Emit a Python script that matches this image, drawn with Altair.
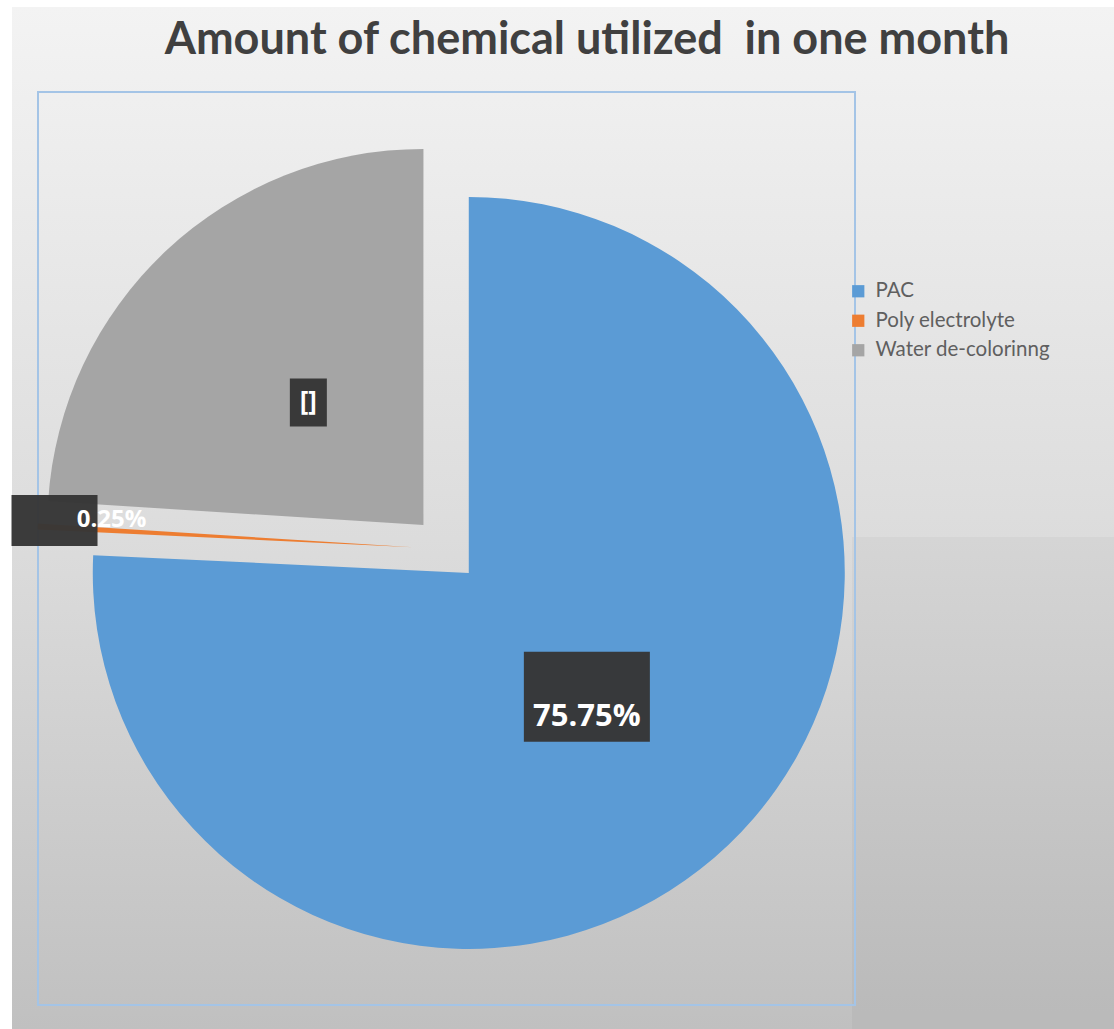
import altair as alt
import pandas as pd

# ---------------- data ----------------
categories = ["PAC", "Poly electrolyte", "Water de-colorinng"]
values = [75.75, 0.25, 24.0]
label_texts = ["75.75%", "0.25%", "[]"]
title_text = "Amount of chemical utilized \u00a0in one month"

# ---------------- style ----------------
colors = ["#5B9BD5", "#ED7D31", "#A5A5A5"]
label_radius = [0.455, 0.955, 0.447]   # fraction of pie radius for label box centre
box_dx = [0, 0, 0]
box_dy = [0, -7, 0]
box_w = [126, 86, 37]
box_h = [90, 51, 48]
text_dx = [0, 57, 0]
text_dy = [20, 0, 0]
font_sizes = [31, 24, 26]

W, H = 1114, 1029
CX, CY = 446, 549      # pie centre (px)
R = 376                # pie radius (px)
EXPLODE = 33           # explosion distance (px)

df = pd.DataFrame({
    "order": list(range(len(categories))),
    "category": categories,
    "value": values,
    "label": label_texts,
    "lr": label_radius,
    "bdx": box_dx, "bdy": box_dy,
    "bw": box_w, "bh": box_h,
    "tdx": text_dx, "tdy": text_dy,
    "fs": font_sizes,
})

base = (
    alt.Chart(df)
    .transform_window(cum="sum(value)", sort=[{"field": "order"}], frame=[None, 0])
    .transform_calculate(
        start="datum.cum - datum.value",
        mid="(datum.cum - datum.value / 2) * 2 * PI / 100",
    )
    .transform_calculate(
        cx=f"{CX} + {EXPLODE} * sin(datum.mid)",
        cy=f"{CY} - {EXPLODE} * cos(datum.mid)",
    )
    .transform_calculate(
        lx=f"datum.cx + datum.lr * {R} * sin(datum.mid) + datum.bdx",
        ly=f"datum.cy - datum.lr * {R} * cos(datum.mid) + datum.bdy",
    )
    .transform_calculate(
        bx1="datum.lx - datum.bw / 2",
        bx2="datum.lx + datum.bw / 2",
        by1="datum.ly - datum.bh / 2",
        by2="datum.ly + datum.bh / 2",
        tx="datum.lx + datum.tdx",
        ty="datum.ly + datum.tdy",
    )
)

theta_scale = alt.Scale(domain=[0, 100], range=[0, 6.283185307179586])

arcs = base.mark_arc(outerRadius=R, strokeWidth=0).encode(
    theta=alt.Theta("start:Q", scale=theta_scale),
    theta2="cum:Q",
    x=alt.X("cx:Q", scale=None),
    y=alt.Y("cy:Q", scale=None),
    color=alt.Color(
        "category:N",
        scale=alt.Scale(domain=categories, range=colors),
        sort=categories,
        legend=alt.Legend(
            orient="none", legendX=848, legendY=281, title=None,
            symbolType="square", symbolSize=150, symbolStrokeWidth=0,
            labelFontSize=20.5, labelFont="Lato", labelColor="#5f5f5f",
            labelLimit=400, rowPadding=8.5, labelOffset=7, padding=0,
        ),
    ),
)

boxes = base.mark_rect(fill="#363636", opacity=0.97).encode(
    x=alt.X("bx1:Q", scale=None),
    x2="bx2:Q",
    y=alt.Y("by1:Q", scale=None),
    y2="by2:Q",
)

texts = base.mark_text(
    color="white", font="Open Sans", fontWeight="bold", align="center", baseline="middle"
).encode(
    x=alt.X("tx:Q", scale=None),
    y=alt.Y("ty:Q", scale=None),
    text="label:N",
    size=alt.Size("fs:Q", scale=None, legend=None),
)

one = pd.DataFrame({"t": [title_text]})

bg = alt.Chart(one).mark_rect(
    fill=alt.LinearGradient(
        gradient="linear",
        stops=[
            alt.GradientStop(color="#f3f3f3", offset=0),
            alt.GradientStop(color="#dcdcdc", offset=0.52),
            alt.GradientStop(color="#c0c0c0", offset=1),
        ],
        x1=0, x2=0, y1=0, y2=1,
    )
).encode(x=alt.value(12), x2=alt.value(W), y=alt.value(7), y2=alt.value(H))

shade = alt.Chart(one).mark_rect(fill="#000000", opacity=0.03).encode(
    x=alt.value(852), x2=alt.value(W), y=alt.value(537), y2=alt.value(H)
)

plot_box = alt.Chart(one).mark_rect(
    fill="transparent", stroke="#a4c4e6", strokeWidth=2
).encode(x=alt.value(38), x2=alt.value(855), y=alt.value(92), y2=alt.value(1005))

title = alt.Chart(one).mark_text(
    font="Lato", fontWeight="bold", fontSize=45, color="#404040",
    align="center", baseline="alphabetic",
).encode(x=alt.value(587), y=alt.value(54), text="t:N")

chart = (
    alt.layer(bg, shade, plot_box, arcs, boxes, texts, title)
    .properties(
        width=W, height=H,
        autosize=alt.AutoSizeParams(type="none"),
        padding=0,
        background="white",
    )
    .configure_view(stroke=None)
)

chart.save("out.html", embed_options={"renderer": "svg", "actions": False})
